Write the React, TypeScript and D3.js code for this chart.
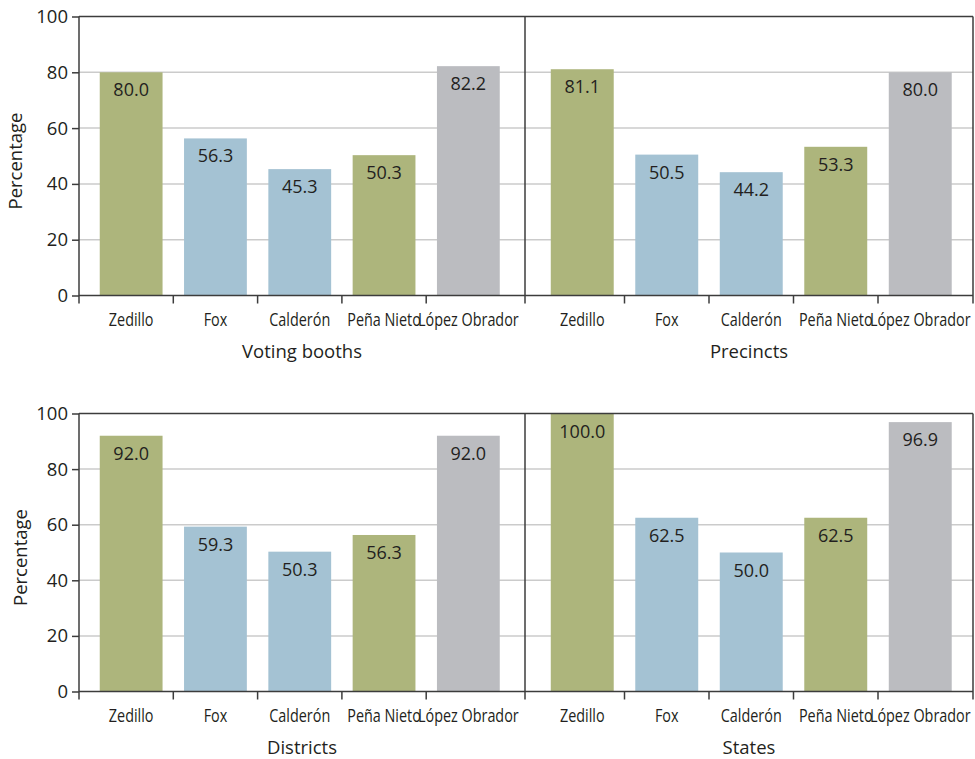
import { useEffect, useRef } from "react"
import * as d3 from "d3"

// candidates shown in every panel
const candidates = ["Zedillo", "Fox", "Calderón", "Peña Nieto", "López Obrador"]
const candidateColors = ["#adb57c", "#a4c2d3", "#a4c2d3", "#adb57c", "#bbbcc0"]

// values per panel (percentage)
const votingBooths = [80.0, 56.3, 45.3, 50.3, 82.2]
const precincts = [81.1, 50.5, 44.2, 53.3, 80.0]
const districts = [92.0, 59.3, 50.3, 56.3, 92.0]
const states = [100.0, 62.5, 50.0, 62.5, 96.9]

const panelTitles = ["Voting booths", "Precincts", "Districts", "States"]
const yTicks = [0, 20, 40, 60, 80, 100]
const yLabel = "Percentage"

const WIDTH = 975
const HEIGHT = 759
const TEXT = "#231f20"
const AXIS = "#3c3c3c"
const GRID = "#cbcbcb"
const SANS = "'Open Sans', 'Noto Sans', sans-serif"

const App = () => {
  const svgRef = useRef<SVGSVGElement | null>(null)

  useEffect(() => {
    if (!svgRef.current) return
    const svg = d3.select(svgRef.current)
    svg.selectAll("*").remove()

    const rows = [
      { top: 16.5, bottom: 295.5, yLabelX: 22 },
      { top: 413.5, bottom: 691.5, yLabelX: 27 },
    ]
    const cols = [
      { left: 79, right: 525, inL: 10, inR: 14.5 },
      { left: 525, right: 973, inL: 15, inR: 10.5 },
    ]
    const panelValues = [votingBooths, precincts, districts, states]

    rows.forEach((row, ri) => {
      const y = d3.scaleLinear().domain([0, 100]).range([row.bottom, row.top])
      const g = svg.append("g")

      // gridlines across the whole row
      g.selectAll(".grid")
        .data(yTicks.filter((t) => t > 0 && t < 100))
        .enter()
        .append("line")
        .attr("x1", cols[0].left)
        .attr("x2", cols[1].right)
        .attr("y1", (d) => y(d))
        .attr("y2", (d) => y(d))
        .attr("stroke", GRID)
        .attr("stroke-width", 1.5)

      // y axis
      g.append("g")
        .attr("transform", `translate(${cols[0].left},0)`)
        .call(d3.axisLeft(y).tickValues(yTicks).tickSize(7).tickPadding(4).tickFormat(d3.format("d")))
        .call((a) => a.select(".domain").remove())
        .call((a) => a.selectAll("line").attr("stroke", AXIS).attr("stroke-width", 1.5))
        .call((a) =>
          a
            .selectAll("text")
            .attr("fill", TEXT)
            .style("font-family", SANS)
            .style("font-size", "18.5px"),
        )

      g.append("text")
        .attr("transform", `translate(${row.yLabelX},${(row.top + row.bottom) / 2 + 5}) rotate(-90)`)
        .attr("text-anchor", "middle")
        .attr("fill", TEXT)
        .style("font-family", SANS)
        .style("font-size", "18.5px")
        .text(yLabel)

      cols.forEach((col, ci) => {
        const idx = ri * 2 + ci
        const values = panelValues[idx]
        const x = d3
          .scaleBand()
          .domain(candidates)
          .range([col.left + col.inL, col.right - col.inR])
          .paddingInner(0.255)
          .paddingOuter(0.1275)

        // bars
        g.selectAll(`.bar-${idx}`)
          .data(values)
          .enter()
          .append("rect")
          .attr("x", (_, i) => x(candidates[i]) ?? 0)
          .attr("y", (d) => y(d))
          .attr("width", x.bandwidth())
          .attr("height", (d) => y(0) - y(d))
          .attr("fill", (_, i) => candidateColors[i])

        // value labels inside bars
        g.selectAll(`.val-${idx}`)
          .data(values)
          .enter()
          .append("text")
          .attr("x", (_, i) => (x(candidates[i]) ?? 0) + x.bandwidth() / 2)
          .attr("y", (d) => y(d) + 24)
          .attr("text-anchor", "middle")
          .attr("fill", TEXT)
          .style("font-family", SANS)
          .style("font-size", "18px")
          .text((d) => d.toFixed(1))

        // category labels (condensed look via horizontal scale)
        g.selectAll(`.cat-${idx}`)
          .data(candidates)
          .enter()
          .append("text")
          .attr("transform", (d) => `translate(${(x(d) ?? 0) + x.bandwidth() / 2},${row.bottom + 30}) scale(0.8,1)`)
          .attr("text-anchor", "middle")
          .attr("fill", TEXT)
          .style("font-family", SANS)
          .style("font-size", "18px")
          .text((d) => d)

        // x tick marks between categories
        const centers = candidates.map((c) => (x(c) ?? 0) + x.bandwidth() / 2)
        const tickXs = centers.slice(1).map((c, i) => (c + centers[i]) / 2)
        g.selectAll(`.xt-${idx}`)
          .data(tickXs)
          .enter()
          .append("line")
          .attr("x1", (d) => d)
          .attr("x2", (d) => d)
          .attr("y1", row.bottom)
          .attr("y2", row.bottom + 8)
          .attr("stroke", AXIS)
          .attr("stroke-width", 1.5)

        // panel title
        g.append("text")
          .attr("x", (col.left + col.right) / 2)
          .attr("y", row.bottom + 62)
          .attr("text-anchor", "middle")
          .attr("fill", TEXT)
          .style("font-family", SANS)
          .style("font-size", "18.5px")
          .text(panelTitles[idx])
      })

      // frame: top, bottom, vertical edges/divider
      g.append("line")
        .attr("x1", cols[0].left)
        .attr("x2", cols[1].right)
        .attr("y1", row.top)
        .attr("y2", row.top)
        .attr("stroke", AXIS)
        .attr("stroke-width", 1.5)
      g.append("line")
        .attr("x1", cols[0].left)
        .attr("x2", cols[1].right)
        .attr("y1", row.bottom)
        .attr("y2", row.bottom)
        .attr("stroke", AXIS)
        .attr("stroke-width", 1.5)
      ;[cols[0].left, cols[0].right, cols[1].right].forEach((vx) => {
        g.append("line")
          .attr("x1", vx)
          .attr("x2", vx)
          .attr("y1", row.top)
          .attr("y2", row.bottom + 8)
          .attr("stroke", AXIS)
          .attr("stroke-width", 1.5)
      })
    })
  }, [])

  return (
    <svg
      ref={svgRef}
      width={WIDTH}
      height={HEIGHT}
      style={{ position: "absolute", left: 0, top: 0, background: "white" }}
    ></svg>
  )
}

export default App
